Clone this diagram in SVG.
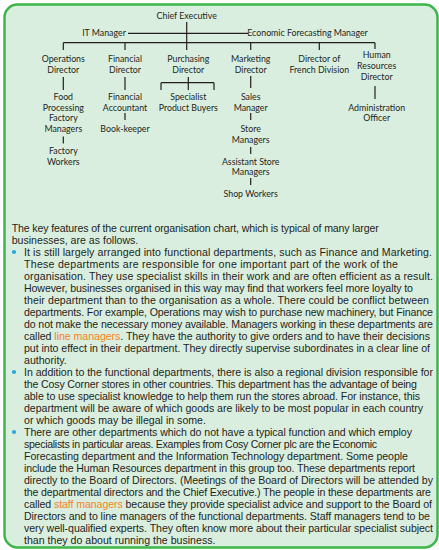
<svg xmlns="http://www.w3.org/2000/svg" width="439" height="550" viewBox="0 0 439 550">
<style>
.ch{font-family:Lato,"Liberation Sans",sans-serif;font-size:8.8px;fill:#231f20;text-anchor:middle}
.bt{font-family:"Liberation Sans",Arial,sans-serif;font-size:10.6px;fill:#231f20}
.hl{fill:#f58220}
.cn{stroke:#231f20;stroke-width:1.2;fill:none}
.dot{fill:#29a8e0}
</style>
<rect x="0" y="0" width="439" height="550" fill="#ffffff"/>
<rect x="4.5" y="4.5" width="433" height="543" rx="13" ry="13" fill="#daeedf" stroke="#3db54a" stroke-width="2.5"/>

<g id="connectors" class="cn">
<path d="M186.7 22 V50 M128 33.3 H248 M63.3 42.7 H375 M63.3 42.7 V50 M125 42.7 V50 M250.7 42.7 V50 M319.3 42.7 V50 M375 42.7 V49"/>
<path d="M63.3 77 V90 M63.3 136.5 V143.5"/>
<path d="M125 77 V90 M125 113 V120"/>
<path d="M188.3 77 V90 M161 82.7 H214 M161 82.7 V90 M214 82.7 V90"/>
<path d="M250.7 76 V88 M250.7 113 V120 M250.7 147 V154 M250.7 178 V185"/>
<path d="M375 86 V99"/>
</g>

<g id="chief"><text class="ch" x="186.7" y="19">Chief Executive</text></g>
<g id="it"><text class="ch" x="104" y="36.3">IT Manager</text></g>
<g id="econ"><text class="ch" x="307.5" y="36.3">Economic Forecasting Manager</text></g>
<g id="ops"><text class="ch" x="63.3" y="61.5">Operations</text><text class="ch" x="63.3" y="72.5">Director</text></g>
<g id="fin"><text class="ch" x="125" y="61.5">Financial</text><text class="ch" x="125" y="72.5">Director</text></g>
<g id="pur"><text class="ch" x="188.3" y="61.5">Purchasing</text><text class="ch" x="188.3" y="72.5">Director</text></g>
<g id="mkt"><text class="ch" x="250.7" y="61.5">Marketing</text><text class="ch" x="250.7" y="72.5">Director</text></g>
<g id="french"><text class="ch" x="319.3" y="61.5">Director of</text><text class="ch" x="319.3" y="72.5">French Division</text></g>
<g id="hr"><text class="ch" x="376.7" y="57.5">Human</text><text class="ch" x="376.7" y="68.5">Resources</text><text class="ch" x="376.7" y="79.5">Director</text></g>
<g id="food"><text class="ch" x="63.3" y="99.8">Food</text><text class="ch" x="63.3" y="110.6">Processing</text><text class="ch" x="63.3" y="121.4">Factory</text><text class="ch" x="63.3" y="132.2">Managers</text></g>
<g id="factory"><text class="ch" x="63.3" y="154">Factory</text><text class="ch" x="63.3" y="164.8">Workers</text></g>
<g id="acct"><text class="ch" x="125" y="99.8">Financial</text><text class="ch" x="125" y="110.6">Accountant</text></g>
<g id="book"><text class="ch" x="125" y="132.2">Book-keeper</text></g>
<g id="buyers"><text class="ch" x="188.3" y="99.8">Specialist</text><text class="ch" x="188.3" y="110.6">Product Buyers</text></g>
<g id="sales"><text class="ch" x="250.7" y="99.8">Sales</text><text class="ch" x="250.7" y="110.6">Manager</text></g>
<g id="store"><text class="ch" x="250.7" y="132.3">Store</text><text class="ch" x="250.7" y="143">Managers</text></g>
<g id="asst"><text class="ch" x="250.7" y="164.7">Assistant Store</text><text class="ch" x="250.7" y="175.3">Managers</text></g>
<g id="shop"><text class="ch" x="250.7" y="197">Shop Workers</text></g>
<g id="admin"><text class="ch" x="376.7" y="110.6">Administration</text><text class="ch" x="376.7" y="121.4">Officer</text></g>

<g id="bodytext">
<circle class="dot" cx="14" cy="252" r="2.1"/>
<circle class="dot" cx="14" cy="372" r="2.1"/>
<circle class="dot" cx="14" cy="432" r="2.1"/>
<text class="bt" x="11.7" y="231.5" textLength="367">The key features of the current organisation chart, which is typical of many larger</text>
<text class="bt" x="11.7" y="243.5">businesses, are as follows.</text>
<text class="bt" x="24" y="255.5" textLength="408">It is still largely arranged into functional departments, such as Finance and Marketing.</text>
<text class="bt" x="24" y="267.5" textLength="374">These departments are responsible for one important part of the work of the</text>
<text class="bt" x="24" y="279.5" textLength="409">organisation. They use specialist skills in their work and are often efficient as a result.</text>
<text class="bt" x="24" y="291.5" textLength="389">However, businesses organised in this way may find that workers feel more loyalty to</text>
<text class="bt" x="24" y="303.5" textLength="405">their department than to the organisation as a whole. There could be conflict between</text>
<text class="bt" x="24" y="315.5" textLength="409">departments. For example, Operations may wish to purchase new machinery, but Finance</text>
<text class="bt" x="24" y="327.5" textLength="409">do not make the necessary money available. Managers working in these departments are</text>
<text class="bt" x="24" y="339.5" textLength="406">called <tspan class="hl">line managers</tspan>. They have the authority to give orders and to have their decisions</text>
<text class="bt" x="24" y="351.5" textLength="406">put into effect in their department. They directly supervise subordinates in a clear line of</text>
<text class="bt" x="24" y="363.5">authority.</text>
<text class="bt" x="24" y="375.5" textLength="409">In addition to the functional departments, there is also a regional division responsible for</text>
<text class="bt" x="24" y="387.5" textLength="393">the Cosy Corner stores in other countries. This department has the advantage of being</text>
<text class="bt" x="24" y="399.5" textLength="396">able to use specialist knowledge to help them run the stores abroad. For instance, this</text>
<text class="bt" x="24" y="411.5" textLength="399">department will be aware of which goods are likely to be most popular in each country</text>
<text class="bt" x="24" y="423.5">or which goods may be illegal in some.</text>
<text class="bt" x="24" y="435.5" textLength="388">There are other departments which do not have a typical function and which employ</text>
<text class="bt" x="24" y="447.5" textLength="353">specialists in particular areas. Examples from Cosy Corner plc are the Economic</text>
<text class="bt" x="24" y="459.5" textLength="384">Forecasting department and the Information Technology department. Some people</text>
<text class="bt" x="24" y="471.5" textLength="391">include the Human Resources department in this group too. These departments report</text>
<text class="bt" x="24" y="483.5" textLength="409">directly to the Board of Directors. (Meetings of the Board of Directors will be attended by</text>
<text class="bt" x="24" y="495.5" textLength="407">the departmental directors and the Chief Executive.) The people in these departments are</text>
<text class="bt" x="24" y="507.5" textLength="408">called <tspan class="hl">staff managers</tspan> because they provide specialist advice and support to the Board of</text>
<text class="bt" x="24" y="519.5" textLength="406">Directors and to line managers of the functional departments. Staff managers tend to be</text>
<text class="bt" x="24" y="531.5" textLength="409">very well-qualified experts. They often know more about their particular specialist subject</text>
<text class="bt" x="24" y="543.5">than they do about running the business.</text>
</g>
</svg>
